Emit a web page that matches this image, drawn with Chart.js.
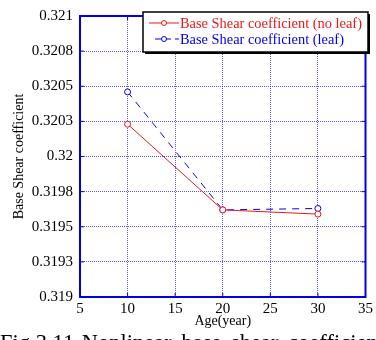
<!DOCTYPE html>
<html>
<head>
<meta charset="utf-8">
<script src="https://cdn.jsdelivr.net/npm/chart.js@4/dist/chart.umd.min.js"></script>
<style>
  body { margin: 0; background: #fff; overflow: hidden; }
  canvas { display: block; }
</style>
</head>
<body>
<canvas id="shearChart" width="376" height="340"></canvas>
<script>
// data
const ages = [10, 20, 30];
const noLeaf = [0.32023, 0.31962, 0.31959];
const leaf = [0.32046, 0.31962, 0.31963];
const yTickValues = [0.319, 0.31925, 0.3195, 0.31975, 0.32, 0.32025, 0.3205, 0.32075, 0.321];
const yTickLabels = ["0.319", "0.3193", "0.3195", "0.3198", "0.32", "0.3203", "0.3205", "0.3208", "0.321"];
const seriesNames = ["Base Shear coefficient (no leaf)", "Base Shear coefficient (leaf)"];
const caption = "Fig.3.11 Nonlinear base shear coefficient";

const RED = "#e81818";
const BLUE = "#0000ee";
const GRID = "rgba(30,30,235,0.75)";
const SERIF = "'Liberation Serif', 'Times New Roman', serif";

Chart.defaults.font.family = SERIF;
Chart.defaults.color = "#000";

// frame, legend box and caption drawn on top
const decorations = {
    id: "decorations",
    afterDraw(chart) {
        const { ctx, chartArea: a } = chart;
        ctx.save();

        // blue frame with inner ticks
        ctx.strokeStyle = BLUE;
        ctx.lineWidth = 2;
        ctx.strokeRect(a.left, a.top, a.right - a.left, a.bottom - a.top);
        ctx.lineWidth = 1;
        const xs = chart.scales.x, ys = chart.scales.y;
        ctx.beginPath();
        xs.ticks.forEach(t => {
            const px = xs.getPixelForValue(t.value);
            ctx.moveTo(px, a.bottom); ctx.lineTo(px, a.bottom - 4);
            ctx.moveTo(px, a.top); ctx.lineTo(px, a.top + 4);
        });
        ys.ticks.forEach(t => {
            const py = ys.getPixelForValue(t.value);
            ctx.moveTo(a.left, py); ctx.lineTo(a.left + 4, py);
            ctx.moveTo(a.right, py); ctx.lineTo(a.right - 4, py);
        });
        ctx.stroke();

        // legend
        const lx = 143, ly = 12, lw = 225, lh = 40;
        ctx.fillStyle = "#fff";
        ctx.fillRect(lx, ly, lw, lh);
        ctx.strokeStyle = "#000";
        ctx.lineWidth = 1.5;
        ctx.strokeRect(lx, ly, lw, lh);
        ctx.lineWidth = 2;
        ctx.beginPath();
        ctx.moveTo(lx + 2, ly + lh + 1); ctx.lineTo(lx + lw + 1, ly + lh + 1); ctx.lineTo(lx + lw + 1, ly + 2);
        ctx.stroke();

        const rows = [
            { color: RED, dash: [], y: 23, name: seriesNames[0] },
            { color: BLUE, dash: [6, 4], y: 39, name: seriesNames[1] }
        ];
        ctx.font = "14.4px " + SERIF;
        ctx.textBaseline = "middle";
        rows.forEach(r => {
            ctx.strokeStyle = r.color;
            ctx.lineWidth = 1;
            ctx.setLineDash(r.dash);
            ctx.beginPath();
            ctx.moveTo(r.dash.length ? 155 : 149, r.y);
            ctx.lineTo(179, r.y);
            ctx.stroke();
            ctx.setLineDash([]);
            ctx.fillStyle = "#fff";
            ctx.beginPath();
            ctx.arc(164, r.y, 2.5, 0, Math.PI * 2);
            ctx.fill();
            ctx.stroke();
            ctx.fillStyle = r.color;
            ctx.fillText(r.name, 180, r.y + 1);
        });

        // caption, slightly widened and cut by the bottom edge
        ctx.fillStyle = "#000";
        ctx.font = "22.5px " + SERIF;
        ctx.textBaseline = "alphabetic";
        let cx = 0;
        caption.split(" ").forEach((w, i) => {
            ctx.fillText(w, cx, 350);
            cx += ctx.measureText(w + " ").width + (i === 0 ? 2 : 4);
        });
        ctx.restore();
    }
};

const ctx = document.getElementById("shearChart").getContext("2d");
new Chart(ctx, {
    type: "line",
    data: {
        datasets: [{
            label: seriesNames[0],
            data: ages.map((a, i) => ({ x: a, y: noLeaf[i] })),
            borderColor: RED,
            backgroundColor: "#fff",
            borderWidth: 1,
            pointRadius: 3,
            pointBorderWidth: 1,
            pointBorderColor: RED,
            tension: 0
        }, {
            label: seriesNames[1],
            data: ages.map((a, i) => ({ x: a, y: leaf[i] })),
            borderColor: BLUE,
            backgroundColor: "#fff",
            borderWidth: 1,
            borderDash: [7, 6],
            pointRadius: 3,
            pointBorderWidth: 1,
            pointBorderColor: BLUE,
            tension: 0
        }]
    },
    options: {
        responsive: false,
        animation: false,
        layout: { padding: { top: 11, right: 9, left: 0, bottom: 0 } },
        plugins: { legend: { display: false }, tooltip: { enabled: false } },
        scales: {
            x: {
                type: "linear",
                min: 5,
                max: 35,
                ticks: { stepSize: 5, padding: 3, font: { size: 15 }, color: "#000" },
                grid: { color: GRID, drawTicks: false, lineWidth: 1 },
                border: { display: false, dash: [1, 1] },
                title: { display: true, text: "Age(year)", font: { size: 14 }, color: "#000", padding: { top: 0, bottom: 10 } },
                afterFit(scale) { scale.height = 43; }
            },
            y: {
                min: 0.319,
                max: 0.321,
                afterBuildTicks(scale) { scale.ticks = yTickValues.map(v => ({ value: v })); },
                ticks: {
                    padding: 7,
                    font: { size: 15 },
                    color: "#000",
                    callback: (value, index) => yTickLabels[index]
                },
                grid: { color: GRID, drawTicks: false, lineWidth: 1 },
                border: { display: false, dash: [1, 1] },
                title: { display: true, text: "Base Shear coefficient", font: { size: 14 }, color: "#000", padding: { top: 11, bottom: 0 } },
                afterFit(scale) { scale.width = 80; }
            }
        }
    },
    plugins: [decorations]
});
</script>
</body>
</html>
